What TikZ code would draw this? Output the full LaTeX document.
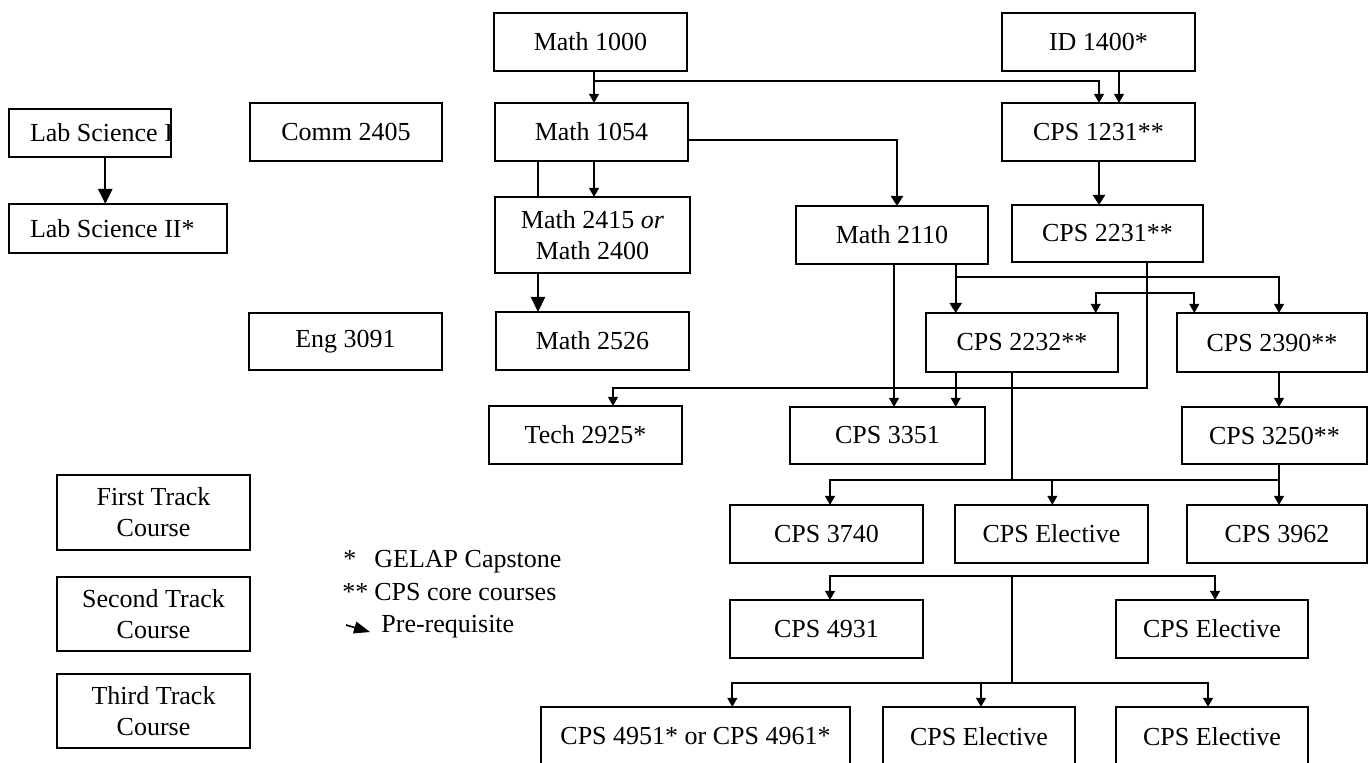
\documentclass[tikz,border=0pt]{standalone}
\usepackage{fontspec}
\setmainfont{Liberation Serif}
\usetikzlibrary{arrows.meta}
\newcommand\crsbox[6]{%
  \pgfmathsetmacro\cx{(#2+#4)/2}\pgfmathsetmacro\cy{(#3+#5)/2}%
  \pgfmathsetmacro\ww{(#4-#2)*0.5}\pgfmathsetmacro\hh{(#5-#3)*0.5}%
  \node[box,minimum width=\ww pt,minimum height=\hh pt] (#1) at (\cx,\cy) {#6};}
\begin{document}
\begin{tikzpicture}[x=0.5pt,y=-0.5pt,
  box/.style={draw,line width=1pt,fill=white,inner sep=0pt,outer sep=0pt,align=center,font=\fontsize{13}{15.5}\selectfont},
  conn/.style={line width=0.9pt},
  arr/.style={conn,-{Triangle[length=4.5pt,width=4.8pt]}},
  arrm/.style={line width=1.1pt,-{Triangle[length=5pt,width=6pt]}},
  arrb/.style={line width=1.1pt,-{Triangle[length=7.5pt,width=7pt]}},
  lbl/.style={anchor=base west,inner sep=0pt,font=\fontsize{13}{15.5}\selectfont}]
\useasboundingbox (0,0) rectangle (1370,763);
% boxes
\crsbox{m1000}{494}{13}{687}{71}{Math 1000}
\crsbox{id1400}{1002}{13}{1195}{71}{ID 1400*}
\crsbox{lab1}{9}{109}{171}{157}{\makebox[\ww pt][l]{\hspace{10.5pt}Lab Science I}}
\crsbox{comm}{250}{103}{442}{161}{Comm 2405}
\crsbox{m1054}{495}{103}{688}{161}{Math 1054}
\crsbox{cps1231}{1002}{103}{1195}{161}{CPS 1231**}
\crsbox{lab2}{9}{204}{227}{253}{\makebox[\ww pt][l]{\hspace{10.5pt}Lab Science II*}}
\crsbox{m2415}{495}{197}{690}{273}{Math 2415 \textit{or}\\Math 2400}
\crsbox{m2110}{796}{206}{988}{264}{Math 2110}
\crsbox{cps2231}{1012}{205}{1203}{262}{CPS 2231**}
\crsbox{eng}{249}{313}{442}{370}{Eng 3091}
\crsbox{m2526}{496}{312}{689}{370}{Math 2526}
\crsbox{cps2232}{926}{313}{1118}{372}{CPS 2232**}
\crsbox{cps2390}{1177}{313}{1367}{372}{CPS 2390**}
\crsbox{tech}{489}{406}{682}{464}{Tech 2925*}
\crsbox{cps3351}{790}{407}{985}{464}{CPS 3351}
\crsbox{cps3250}{1182}{407}{1367}{464}{CPS 3250**}
\crsbox{first}{57}{475}{250}{550}{First Track\\Course}
\crsbox{second}{57}{577}{250}{651}{Second Track\\Course}
\crsbox{third}{57}{674}{250}{748}{Third Track\\Course}
\crsbox{cps3740}{730}{505}{923}{563}{CPS 3740}
\crsbox{ce1}{955}{505}{1148}{563}{CPS Elective}
\crsbox{cps3962}{1187}{505}{1367}{563}{CPS 3962}
\crsbox{cps4931}{730}{600}{923}{658}{CPS 4931}
\crsbox{ce2}{1116}{600}{1308}{658}{CPS Elective}
\crsbox{cps4951}{541}{707}{850}{766}{CPS 4951* or CPS 4961*}
\crsbox{ce3}{883}{707}{1075}{766}{CPS Elective}
\crsbox{ce4}{1116}{707}{1308}{766}{CPS Elective}
% column / row helpers
\coordinate (xlab) at (105.3,0);
\coordinate (xa) at (594,0);
\coordinate (xb) at (1099,0);
\coordinate (xc) at (1119,0);
\coordinate (xd) at (538,0);
\coordinate (xe) at (897,0);
\coordinate (xf) at (894,0);
\coordinate (xg) at (955.7,0);
\coordinate (xh) at (1279,0);
\coordinate (xi) at (1147.3,0);
\coordinate (xj) at (613,0);
\coordinate (xk) at (1095.7,0);
\coordinate (xl) at (1194.3,0);
\coordinate (xm) at (1011.7,0);
\coordinate (xn) at (830,0);
\coordinate (xo) at (1052.3,0);
\coordinate (xp) at (1215,0);
\coordinate (xq) at (732.3,0);
\coordinate (xr) at (981,0);
\coordinate (xs) at (1208,0);
\coordinate (y81) at (0,81);
\coordinate (y140) at (0,140);
\coordinate (y277) at (0,277);
\coordinate (y293) at (0,293);
\coordinate (y388) at (0,388);
\coordinate (y480) at (0,480);
\coordinate (y576) at (0,576);
\coordinate (y683) at (0,683);
% connectors
\draw[arrb] (lab1.south -| xlab) -- (lab2.north -| xlab);
\draw[arr] (m1000.south -| xa) -- (m1054.north -| xa);
\draw[arr] (m1000.south -| xa) |- (xb |- y81) -- (cps1231.north -| xb);
\draw[arr] (id1400.south -| xc) -- (cps1231.north -| xc);
\draw[arrm] (m1054.east |- y140) -| (m2110.north -| xe);
\draw[arr] (m1054.south -| xa) -- (m2415.north -| xa);
\draw[conn] (m1054.south -| xd) -- (m2415.north -| xd);
\draw[arrb] (m2415.south -| xd) -- (m2526.north -| xd);
\draw[arrm] (cps1231.south -| xb) -- (cps2231.north -| xb);
\draw[arr] (m2110.south -| xf) -- (cps3351.north -| xf);
\draw[arrm] (m2110.south -| xg) -- (cps2232.north -| xg);
\draw[arr] (m2110.south -| xg) |- (xh |- y277) -- (cps2390.north -| xh);
\draw[arr] (cps2231.south -| xi) |- (xj |- y388) -- (tech.north -| xj);
\draw[arr] (xi |- y293) -| (cps2232.north -| xk);
\draw[arr] (xi |- y293) -| (cps2390.north -| xl);
\draw[arr] (cps2232.south -| xg) -- (cps3351.north -| xg);
\draw[arr] (cps2390.south -| xh) -- (cps3250.north -| xh);
\draw[conn] (cps2232.south -| xm) -- (xm |- y480) -- (xh |- y480);
\draw[arr] (xm |- y480) -| (cps3740.north -| xn);
\draw[arr] (xm |- y480) -| (ce1.north -| xo);
\draw[arr] (cps3250.south -| xh) -- (cps3962.north -| xh);
\draw[conn,shorten <=6.5pt] (ce1.south -| xm) -- (xm |- y683);
\draw[arr] (xm |- y576) -| (cps4931.north -| xn);
\draw[arr] (xm |- y576) -| (ce2.north -| xp);
\draw[arr] (xm |- y683) -| (cps4951.north -| xq);
\draw[arr] (xm |- y683) -| (ce3.north -| xr);
\draw[arr] (xm |- y683) -| (ce4.north -| xs);
% legend
\node[lbl] (s1) at (343,568) {*};
\node[lbl] (g1) at (374,568) {GELAP Capstone};
\node[lbl] (s2) at (342,601) {**};
\node[lbl] (g2) at (374,601) {CPS core courses};
\node[lbl] (g3) at (381,633) {Pre-requisite};
\coordinate (pa) at (346,625);
\coordinate (pb) at (370,632);
\draw[line width=0.8pt,-{Triangle[length=8pt,width=6pt]}] (pa) -- (pb);
\end{tikzpicture}
\end{document}
